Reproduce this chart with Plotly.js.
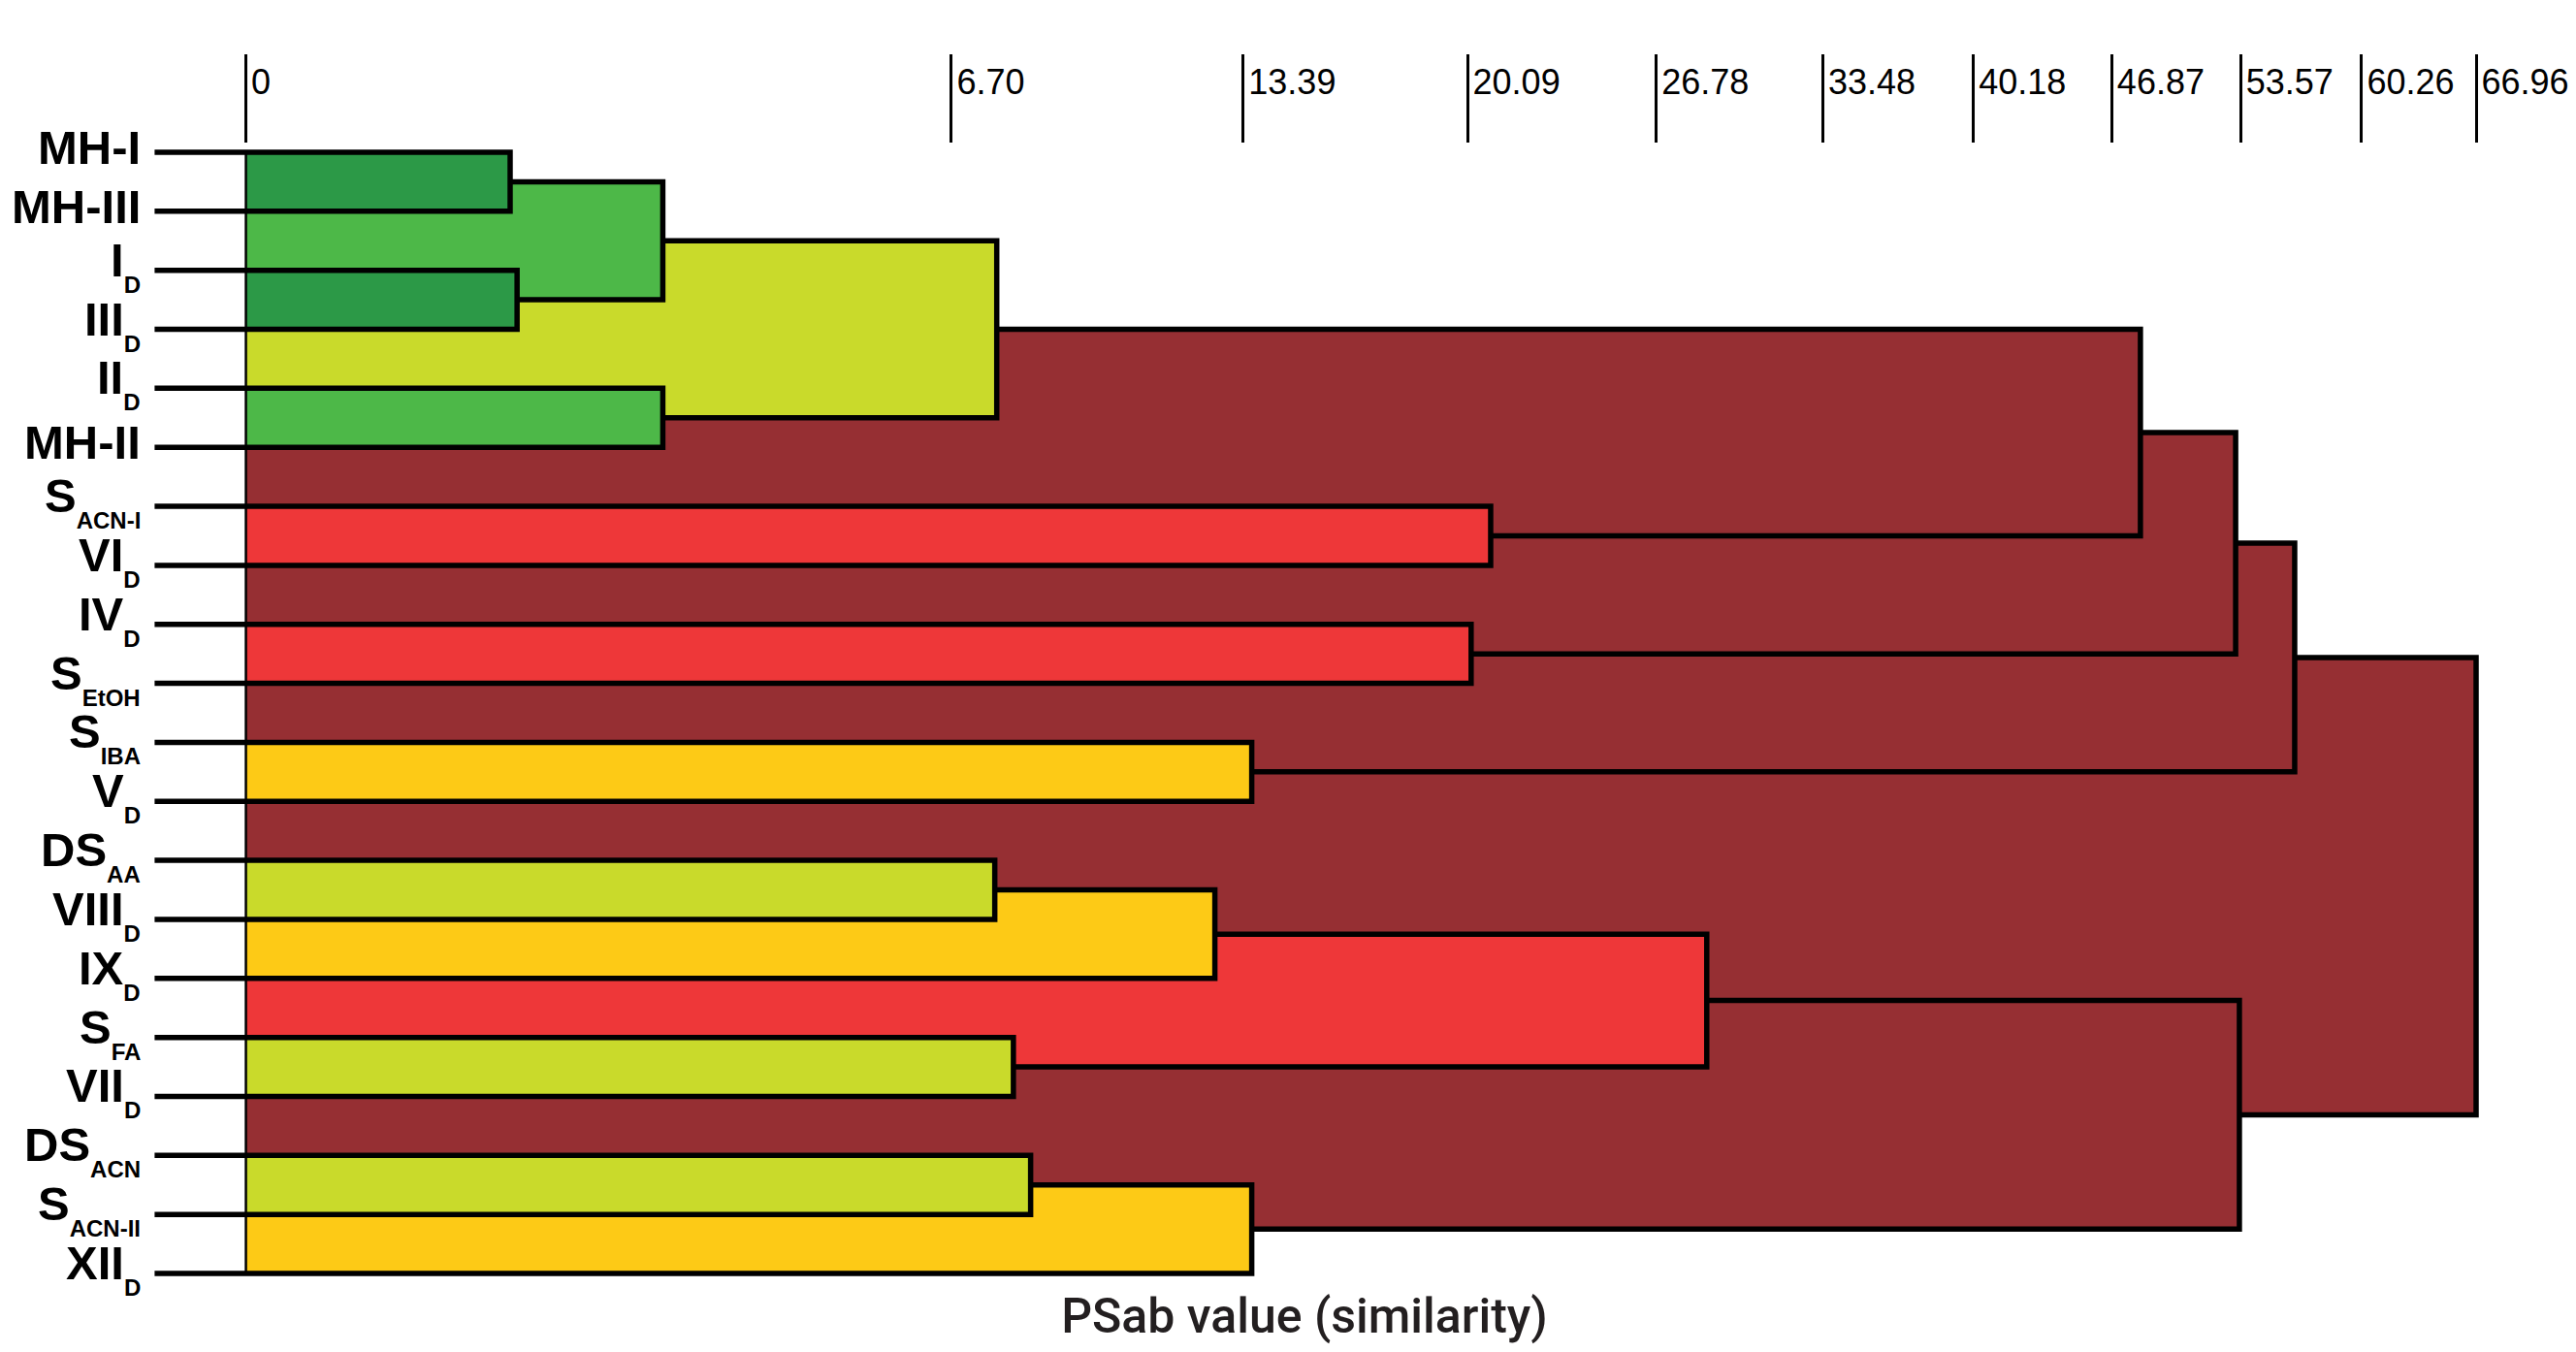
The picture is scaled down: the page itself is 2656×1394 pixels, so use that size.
<!DOCTYPE html>
<html>
<head>
<meta charset="utf-8">
<script src="https://cdn.plot.ly/plotly-3.0.1.min.js"></script>
<style>html,body{margin:0;padding:0;background:#fff;}#chart{width:2656px;height:1394px;}</style>
</head>
<body>
<div id="chart"></div>
<script>
// ---- data (leaves listed top to bottom) ----
const leafMain = ['MH-I','MH-III','I','III','II','MH-II','S','VI','IV','S','S','V','DS','VIII','IX','S','VII','DS','S','XII'];
const leafSub  = ['','','D','D','D','','ACN-I','D','D','EtOH','IBA','D','AA','D','D','FA','D','ACN','ACN-II','D'];

// merges: cluster id = 20 + row index; children are leaf or cluster ids
const mergeA = [0, 2, 20, 4, 22, 6, 24, 8, 26, 10, 28, 12, 31, 15, 32, 17, 35, 34, 30];
const mergeB = [1, 3, 21, 5, 23, 7, 25, 9, 27, 11, 29, 13, 14, 16, 33, 18, 19, 36, 37];
const mergeH = [0.94, 0.99, 2.34, 2.34, 7.59, 20.86, 48.32, 20.21, 53.30, 13.62, 56.51, 7.55, 12.64, 7.93, 28.73, 8.29, 13.62, 53.50, 66.96];
const mergeGroup = ['dg','dg','lg','lg','yg','red','brown','red','brown','yellow','brown','yg','yellow','yg','red','yg','yellow','brown','brown'];

const tickVals = [0, 6.70, 13.39, 20.09, 26.78, 33.48, 40.18, 46.87, 53.57, 60.26, 66.96];
const tickText = ['0','6.70','13.39','20.09','26.78','33.48','40.18','46.87','53.57','60.26','66.96'];

const axisTitle = 'PSab value (similarity)';

// ---- styles ----
const groupColor = {dg:'#2c9947', lg:'#4db848', yg:'#c9da2b', red:'#ee3739', brown:'#962f33', yellow:'#fdca16'};
const STUB = -0.335;   // left end of the leaf stubs, in sqrt-axis units
const sx = v => Math.sqrt(v);   // the axis is a square-root scale of PSab

const nLeaf = leafMain.length;
const ypos = [], hgt = [];
for (let i = 0; i < nLeaf; i++) { ypos[i] = i; hgt[i] = null; }
mergeA.forEach((a, k) => {
  const id = nLeaf + k;
  ypos[id] = (ypos[a] + ypos[mergeB[k]]) / 2;
  hgt[id] = mergeH[k];
});

const traces = [];
// filled cluster blocks, largest first
const order = mergeH.map((h, k) => k).sort((p, q) => mergeH[q] - mergeH[p]);
order.forEach(k => {
  const ya = ypos[mergeA[k]], yb = ypos[mergeB[k]], x1 = sx(mergeH[k]);
  traces.push({
    type: 'scatter', mode: 'lines', x: [0, x1, x1, 0, 0], y: [ya, ya, yb, yb, ya],
    fill: 'toself', fillcolor: groupColor[mergeGroup[k]], line: {width: 0},
    hoverinfo: 'skip', showlegend: false
  });
});
// left border line
traces.push({type:'scatter', mode:'lines', x:[0,0], y:[ypos[0], ypos[nLeaf-1]],
  line:{color:'#000', width:2.5}, hoverinfo:'skip', showlegend:false});
// dendrogram links
const lx = [], ly = [];
mergeA.forEach((a, k) => {
  const b = mergeB[k], x1 = sx(mergeH[k]);
  const xa = a < nLeaf ? STUB : sx(hgt[a]);
  const xb = b < nLeaf ? STUB : sx(hgt[b]);
  lx.push(xa, x1, x1, xb, null);
  ly.push(ypos[a], ypos[a], ypos[b], ypos[b], null);
});
traces.push({type:'scatter', mode:'lines', x:lx, y:ly, line:{color:'#000', width:5.5},
  hoverinfo:'skip', showlegend:false, cliponaxis:false});

// leaf labels
const annotations = leafMain.map((m, i) => ({
  x: STUB, y: ypos[i], xref: 'x', yref: 'y', xanchor: 'right', yanchor: 'middle',
  xshift: -12, yshift: 5, showarrow: false,
  text: leafSub[i] ? m + '<sub><sub>' + leafSub[i] + '</sub></sub>' : m,
  font: {family: 'Liberation Sans, Arial, sans-serif', size: 49, color: '#000', weight: 'bold'}
}));

const layout = {
  width: 2656, height: 1394,
  margin: {l: 158, r: 42, t: 148, b: 74},
  paper_bgcolor: '#fff', plot_bgcolor: '#fff',
  showlegend: false,
  title: {text: axisTitle, x: 0.4833, xref: 'paper', y: 0.027, yref: 'container',
          xanchor: 'center', yanchor: 'middle',
          font: {family: 'Roboto, Liberation Sans, sans-serif', size: 50, color: '#231f20', weight: 500}},
  xaxis: {
    side: 'top', range: [-0.34, 8.40], showgrid: false, zeroline: false, showline: false,
    tickmode: 'array', tickvals: tickVals.map(sx), ticktext: tickText,
    ticks: 'outside', ticklen: 91, tickwidth: 3, tickcolor: '#000',
    ticklabelposition: 'outside right', ticklabelstandoff: 36, ticklabelshift: 4,
    ticklabeloverflow: 'allow',
    tickfont: {family: 'Liberation Sans, Arial, sans-serif', size: 36, color: '#000'}
  },
  yaxis: {range: [19.115, -0.148], showgrid: false, zeroline: false, showline: false,
          showticklabels: false, ticks: ''},
  annotations: annotations
};

Plotly.newPlot('chart', traces, layout, {displayModeBar: false, staticPlot: true});
</script>
</body>
</html>
